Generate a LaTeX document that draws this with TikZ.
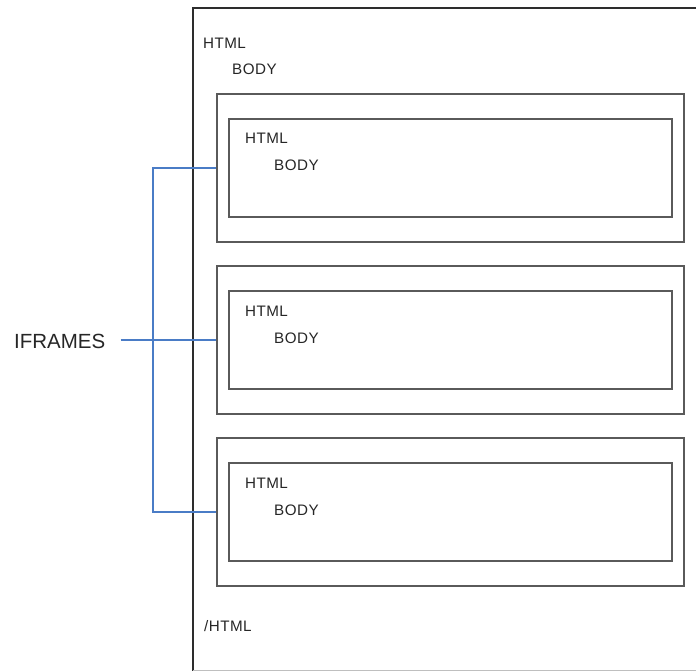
\documentclass[tikz,border=0pt]{standalone}
\usepackage{fontspec}
\setmainfont{Liberation Sans}
\usepackage{xcolor}
\usepackage{tikz}
\usetikzlibrary{positioning}

\definecolor{pageline}{RGB}{45,45,45}
\definecolor{boxline}{RGB}{90,90,90}
\definecolor{linkblue}{RGB}{74,124,198}

\begin{document}
\begin{tikzpicture}[x=1pt,y=-1pt,
    label/.style={font=\fontsize{15.2}{16}\selectfont\addfontfeature{LetterSpace=3},text=black!85,inner sep=0pt,anchor=base west},
    iframebox/.style={draw=boxline,line width=1.8pt,minimum width=467pt,minimum height=148pt,inner sep=0pt},
    docbox/.style={draw=boxline,line width=1.8pt,minimum width=443pt,minimum height=98pt,inner sep=0pt},
    link/.style={draw=linkblue,line width=1.6pt}]
    \useasboundingbox (0,0) rectangle (696,671);

    % Draw the outer page
    \draw[pageline,line width=1.8pt] (696,8) -- (193,8) -- (193,671);
    \draw[black!25,line width=1pt] (193,670) -- (696,670);

    % Outer document text
    \node[label] (html) at (203,48.3) {HTML};
    \node[label] (body) at (232,75) {BODY};
    \node[label] (endhtml) at (204,631) {/HTML};

    % Iframes
    \node[iframebox] (frame1) at (450.5,168) {};
    \node[docbox] (doc1) at (frame1.center) {};
    \node[label] (html1) at (245,144) {HTML};
    \node[label] (body1) at (274,171) {BODY};

    \node[iframebox] (frame2) at (450.5,340) {};
    \node[docbox] (doc2) at (frame2.center) {};
    \node[label] (html2) at (245,316) {HTML};
    \node[label] (body2) at (274,343) {BODY};

    \node[iframebox] (frame3) at (450.5,512) {};
    \node[docbox] (doc3) at (frame3.center) {};
    \node[label] (html3) at (245,488) {HTML};
    \node[label] (body3) at (274,515) {BODY};

    % Label and bracket
    \node[font=\fontsize{20.5}{22}\selectfont,text=black!85,inner sep=0pt,anchor=base west] (iframes) at (14,348.7) {IFRAMES};
    \coordinate (bracket) at (153,0);
    \draw[link] (frame1.west) -- (frame1.west -| bracket) -- (frame3.west -| bracket) -- (frame3.west);
    \draw[link] ([xshift=15pt]iframes.east |- frame2.west) -- (frame2.west);
\end{tikzpicture}
\end{document}
